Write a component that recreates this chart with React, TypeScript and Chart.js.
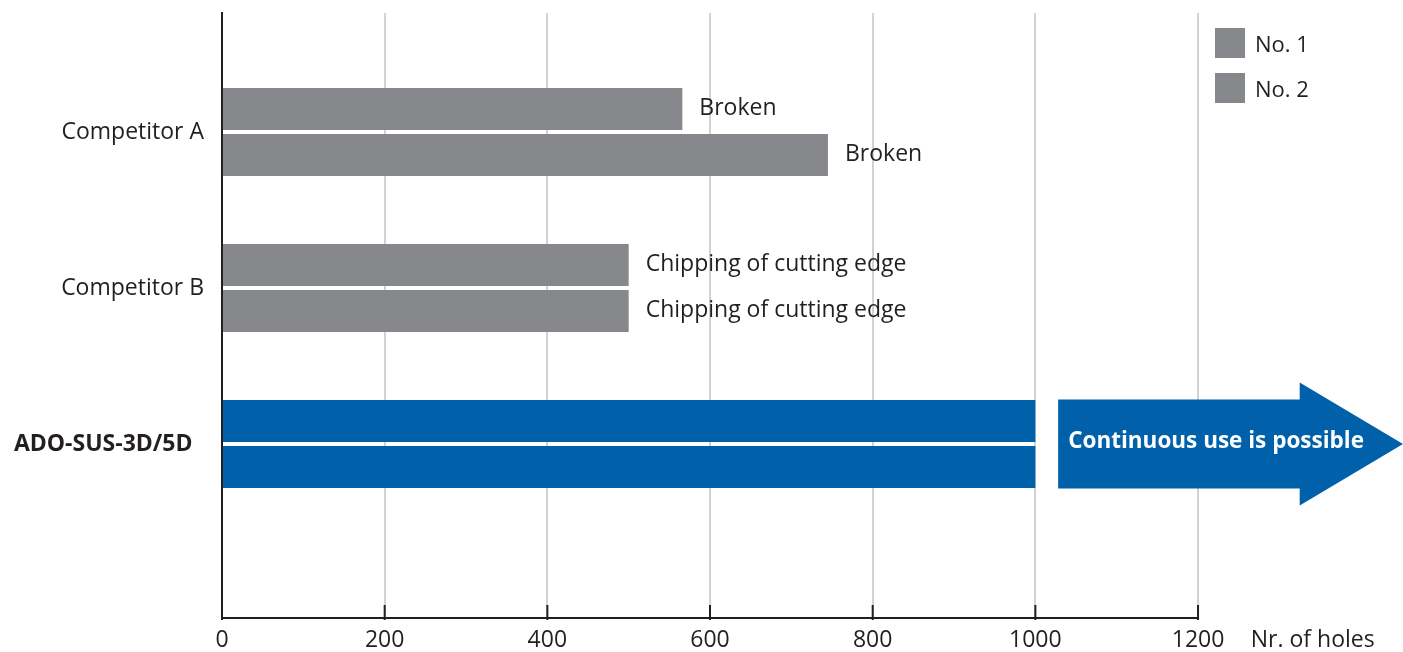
import { useEffect, useRef } from 'react';
import { Chart, registerables } from 'chart.js';

Chart.register(...registerables);

const categories = ['Competitor A', 'Competitor B', 'ADO-SUS-3D/5D'];
const seriesNames = ['No. 1', 'No. 2'];
const no1Values = [566, 500, 1000];
const no2Values = [745, 500, 1000];
const no1Notes = ['Broken', 'Chipping of cutting edge', ''];
const no2Notes = ['Broken', 'Chipping of cutting edge', ''];
const xTickValues = [0, 200, 400, 600, 800, 1000, 1200];
const xAxisTitle = 'Nr. of holes';
const xAxisTitleValue = 1341;
const arrowText = 'Continuous use is possible';
const arrowValues = [1028, 1325, 1452]; // start, head base, tip (holes)
const arrowCategory = 2;

const FONT = "'Open Sans', 'Noto Sans', sans-serif";
const TEXT = '#231f20';
const GRAY = '#87888c';
const BLUE = '#0060aa';
const GRID = '#d2d2d2';

export default function App() {
  const ref = useRef<HTMLCanvasElement | null>(null);

  useEffect(() => {
    document.body.style.margin = '0';
    const canvas = ref.current;
    if (!canvas) return;

    const overlay = {
      id: 'overlay',
      afterDatasetsDraw(chart: any) {
        const ctx = chart.ctx as CanvasRenderingContext2D;
        const xs = chart.scales.x;
        const ys = chart.scales.y;
        const area = chart.chartArea;
        ctx.save();

        // x axis line up to last numeric tick
        const x0 = xs.getPixelForValue(xTickValues[0]);
        const xEnd = xs.getPixelForValue(xTickValues[xTickValues.length - 1]);
        ctx.strokeStyle = TEXT;
        ctx.lineWidth = 2;
        ctx.beginPath();
        ctx.moveTo(x0 - 1, area.bottom);
        ctx.lineTo(xEnd + 1, area.bottom);
        ctx.stroke();
        // inner tick marks
        xTickValues.forEach((v) => {
          const px = xs.getPixelForValue(v);
          ctx.beginPath();
          ctx.moveTo(px, area.bottom - 13);
          ctx.lineTo(px, area.bottom + 2);
          ctx.stroke();
        });

        // bar end notes
        ctx.fillStyle = TEXT;
        ctx.font = `23px ${FONT}`;
        ctx.textAlign = 'left';
        ctx.textBaseline = 'middle';
        [no1Notes, no2Notes].forEach((notes, d) => {
          const meta = chart.getDatasetMeta(d);
          notes.forEach((t, i) => {
            if (!t) return;
            const el = meta.data[i];
            ctx.fillText(t, el.x + 17, el.y - 1);
          });
        });

        // arrow
        const yc = ys.getPixelForValue(arrowCategory);
        const unit = Math.abs(ys.getPixelForValue(1) - ys.getPixelForValue(0));
        const rh = unit * 0.285;
        const hh = unit * 0.394;
        const ax0 = xs.getPixelForValue(arrowValues[0]);
        const ax1 = xs.getPixelForValue(arrowValues[1]);
        const ax2 = xs.getPixelForValue(arrowValues[2]);
        ctx.fillStyle = BLUE;
        ctx.beginPath();
        ctx.moveTo(ax0, yc - rh);
        ctx.lineTo(ax1, yc - rh);
        ctx.lineTo(ax1, yc - hh);
        ctx.lineTo(ax2, yc);
        ctx.lineTo(ax1, yc + hh);
        ctx.lineTo(ax1, yc + rh);
        ctx.lineTo(ax0, yc + rh);
        ctx.closePath();
        ctx.fill();
        ctx.fillStyle = '#ffffff';
        ctx.font = `bold 22.5px ${FONT}`;
        ctx.textBaseline = 'middle';
        ctx.fillText(arrowText, ax0 + 10, yc - 2);

        // legend
        const lx = area.right - 188;
        const tops = [28, 73];
        chart.data.datasets.forEach((ds: any, i: number) => {
          ctx.fillStyle = GRAY;
          ctx.fillRect(lx, tops[i], 30, 30);
          ctx.fillStyle = TEXT;
          ctx.font = `22px ${FONT}`;
          ctx.textBaseline = 'middle';
          ctx.fillText(ds.label, lx + 40, tops[i] + 18);
        });
        ctx.restore();
      },
    };

    const colorFor = (c: any) => (c.dataIndex === arrowCategory ? BLUE : GRAY);

    const chart = new Chart(canvas, {
      type: 'bar',
      data: {
        datasets: [
          {
            label: seriesNames[0],
            data: no1Values.map((v, i) => ({ x: v, y: i })),
            backgroundColor: colorFor,
            borderWidth: 0,
          },
          {
            label: seriesNames[1],
            data: no2Values.map((v, i) => ({ x: v, y: i })),
            backgroundColor: colorFor,
            borderWidth: 0,
          },
        ],
      },
      options: {
        indexAxis: 'y',
        animation: false,
        responsive: false,
        events: [],
        layout: { padding: { top: 13, left: 0, right: 0, bottom: 0 } },
        datasets: { bar: { categoryPercentage: 0.59, barPercentage: 0.913 } },
        plugins: { legend: { display: false }, tooltip: { enabled: false } },
        scales: {
          x: {
            type: 'linear',
            min: 0,
            max: 1452,
            offset: false,
            afterBuildTicks: (s: any) => {
              s.ticks = [...xTickValues.map((v) => ({ value: v })), { value: xAxisTitleValue }];
            },
            afterFit: (s: any) => {
              s.height = 34;
              s.paddingLeft = 0;
              s.paddingRight = 0;
            },
            grid: {
              color: (c: any) => (c.index >= xTickValues.length ? 'rgba(0,0,0,0)' : GRID),
              lineWidth: 2,
              drawTicks: false,
              offset: false,
            },
            border: { display: false },
            ticks: {
              padding: 9,
              color: TEXT,
              font: { family: FONT, size: 23 },
              maxRotation: 0,
              autoSkip: false,
              callback: (v: any) => (v === xAxisTitleValue ? xAxisTitle : String(v)),
            },
          },
          y: {
            type: 'linear',
            reverse: true,
            offset: false,
            min: -0.763,
            max: 3.115,
            afterBuildTicks: (s: any) => {
              s.ticks = categories.map((_, i) => ({ value: i }));
            },
            afterFit: (s: any) => {
              s.width = 222;
              s.paddingTop = 0;
              s.paddingBottom = 0;
            },
            grid: { display: false, drawTicks: false, offset: false },
            border: { display: true, color: TEXT, width: 2 },
            ticks: {
              padding: 18,
              color: TEXT,
              autoSkip: false,
              font: (c: any) => ({
                family: FONT,
                size: 23,
                weight: c.index === arrowCategory ? 'bold' : 'normal',
              }),
              callback: (v: any) => {
                const i = Number(v);
                return i === arrowCategory ? categories[i] + '\u2002' : categories[i] ?? '';
              },
            },
          },
        },
      },
      plugins: [overlay],
    } as any);

    return () => chart.destroy();
  }, []);

  return (
    <div style={{ width: 1403, height: 652, overflow: 'hidden' }}>
      <canvas ref={ref} width={1403} height={652} style={{ display: 'block' }} />
    </div>
  );
}
